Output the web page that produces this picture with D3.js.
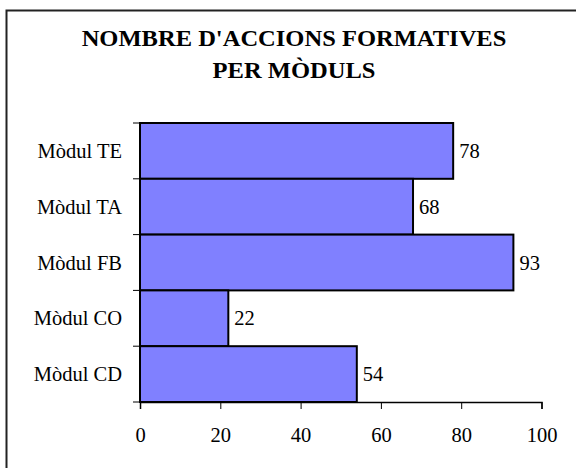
<!DOCTYPE html>
<html>
<head>
<meta charset="utf-8">
<script src="https://cdn.jsdelivr.net/npm/d3@7"></script>
<style>
  body { margin: 0; background: #fff; }
  svg { display: block; }
  svg text { font-family: "Liberation Serif", "Times New Roman", serif; }
</style>
</head>
<body>
<script>
// data
const modules = ["Mòdul TE", "Mòdul TA", "Mòdul FB", "Mòdul CO", "Mòdul CD"];
const actions = [78, 68, 93, 22, 54];
const xTicks = [0, 20, 40, 60, 80, 100];
const titleLines = ["NOMBRE D'ACCIONS FORMATIVES", "PER MÒDULS"];

const width = 576,
  height = 468,
  marginLeft = 140,
  marginRight = 34.5,
  marginTop = 123,
  marginBottom = 66,
  fontSize = 20.5,
  barColor = "#8080ff";

const data = modules.map((m, i) => ({ module: m, n: actions[i] }));

const xScale = d3.scaleLinear().domain([0, 100]).range([marginLeft, width - marginRight]);
const yScale = d3
  .scaleBand()
  .domain(modules)
  .range([marginTop, height - marginBottom])
  .padding(0);

const svg = d3
  .select("body")
  .append("svg")
  .attr("width", width)
  .attr("height", height)
  .attr("viewBox", [0, 0, width, height]);

// frame (right and bottom edges fall off the picture)
svg
  .append("rect")
  .attr("x", 6.5)
  .attr("y", 10.5)
  .attr("width", width + 10)
  .attr("height", height + 10)
  .attr("fill", "none")
  .attr("stroke", "#222")
  .attr("stroke-width", 2);

// title (slightly stretched, like the original export)
svg
  .append("g")
  .selectAll("text")
  .data(titleLines)
  .join("text")
  .attr("transform", (d, i) => `translate(294,${46 + i * 32}) scale(1.1,1)`)
  .attr("text-anchor", "middle")
  .style("font-weight", "bold")
  .style("font-size", "22.3px")
  .text((d) => d);

// bars
svg
  .append("g")
  .selectAll("rect")
  .data(data)
  .join("rect")
  .attr("x", xScale(0))
  .attr("y", (d) => yScale(d.module))
  .attr("width", (d) => xScale(d.n) - xScale(0))
  .attr("height", yScale.bandwidth())
  .attr("fill", barColor)
  .attr("stroke", "#000")
  .attr("stroke-width", 2);

// value labels
svg
  .append("g")
  .selectAll("text")
  .data(data)
  .join("text")
  .attr("x", (d) => xScale(d.n) + 6)
  .attr("y", (d) => yScale(d.module) + yScale.bandwidth() / 2)
  .attr("dy", "0.35em")
  .style("font-size", fontSize + "px")
  .text((d) => d.n);

// x axis
svg
  .append("g")
  .attr("transform", `translate(0,${height - marginBottom})`)
  .call(d3.axisBottom(xScale).tickValues(xTicks).tickSize(7).tickPadding(18).tickFormat(d3.format("d")))
  .call((g) => g.select(".domain").attr("stroke-width", 1.5))
  .call((g) =>
    g
      .selectAll(".tick text")
      .attr("font-family", null)
      .attr("font-size", null)
      .style("font-size", fontSize + "px")
      .attr("fill", "#000")
  );

// y axis with ticks at band edges
const bandEdges = modules.map((m) => yScale(m)).concat([height - marginBottom]);
const yAxisG = svg.append("g");
yAxisG
  .append("line")
  .attr("x1", marginLeft)
  .attr("x2", marginLeft)
  .attr("y1", marginTop)
  .attr("y2", height - marginBottom)
  .attr("stroke", "#000")
  .attr("stroke-width", 1.5);
yAxisG
  .selectAll(".edge")
  .data(bandEdges)
  .join("line")
  .attr("class", "edge")
  .attr("x1", marginLeft - 7)
  .attr("x2", marginLeft)
  .attr("y1", (d) => d)
  .attr("y2", (d) => d)
  .attr("stroke", "#000");
yAxisG
  .selectAll("text")
  .data(modules)
  .join("text")
  .attr("x", marginLeft - 18)
  .attr("y", (d) => yScale(d) + yScale.bandwidth() / 2)
  .attr("dy", "0.35em")
  .attr("text-anchor", "end")
  .style("font-size", fontSize + "px")
  .text((d) => d);
</script>
</body>
</html>
